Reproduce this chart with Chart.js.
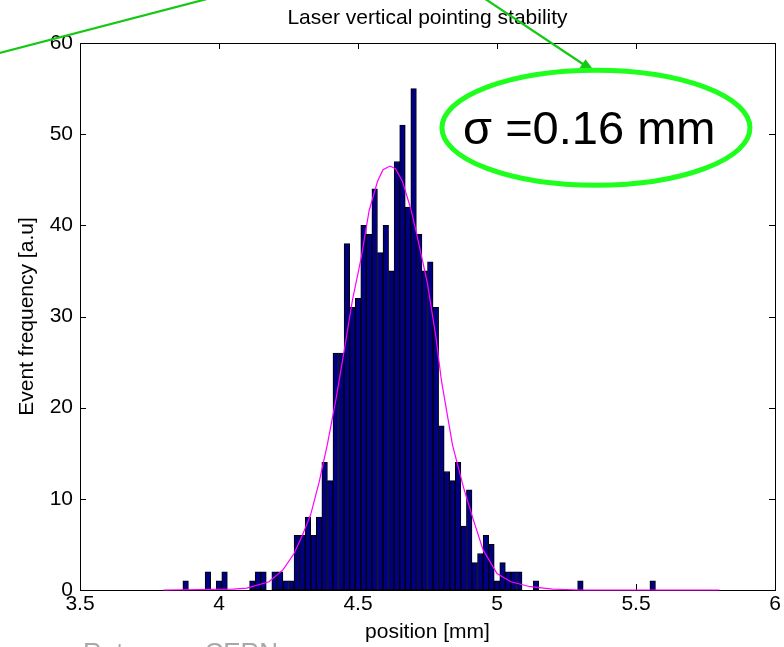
<!DOCTYPE html>
<html>
<head>
<meta charset="utf-8">
<title>Laser vertical pointing stability</title>
<script src="https://cdn.jsdelivr.net/npm/chart.js"></script>
<style>
    body { margin: 0; background: #fff; }
    #wrap { position: relative; width: 784px; height: 647px; }
</style>
</head>
<body>
<div id="wrap"><canvas id="hist" width="784" height="647"></canvas></div>
<script>
// histogram bins: centre position [mm] and number of events (empty bins left out)
const binPos = [3.88, 3.96, 4.00, 4.02, 4.12, 4.14, 4.16, 4.20, 4.22, 4.24, 4.26,
    4.28, 4.30, 4.32, 4.34, 4.36, 4.38, 4.40, 4.42, 4.44, 4.46, 4.48, 4.50,
    4.52, 4.54, 4.56, 4.58, 4.60, 4.62, 4.64, 4.66, 4.68, 4.70, 4.72, 4.74,
    4.76, 4.78, 4.80, 4.82, 4.84, 4.86, 4.88, 4.90, 4.92, 4.94, 4.96, 4.98,
    5.00, 5.02, 5.04, 5.06, 5.08, 5.14, 5.30, 5.56];
const binCount = [1, 2, 1, 2, 1, 2, 2, 2, 2, 1, 1,
    6, 6, 8, 6, 8, 14, 12, 26, 26, 38, 31, 32,
    40, 39, 44, 37, 40, 35, 47, 51, 42, 55, 39, 35,
    36, 31, 18, 13, 12, 14, 7, 11, 3, 4, 6, 5,
    1, 3, 2, 2, 2, 1, 1, 1];

// gaussian fit curve, sampled along the plotted line
const fitX = [3.80, 4.05, 4.10, 4.18, 4.23, 4.27, 4.30, 4.33, 4.36, 4.39, 4.42, 4.45,
    4.48, 4.51, 4.54, 4.57, 4.59, 4.615, 4.635, 4.66, 4.69, 4.71, 4.75, 4.78,
    4.80, 4.84, 4.88, 4.915, 4.95, 5.00, 5.05, 5.12, 5.20, 5.30, 5.80];
const fitY = [0, 0.1, 0.2, 0.9, 2.2, 4.0, 6.0, 8.3, 11.8, 16.0, 20.8, 26.2,
    31.8, 36.2, 41.6, 44.8, 46.1, 46.5, 46.2, 44.8, 41.8, 39.2, 33.6, 27.8,
    23.0, 15.9, 11.2, 7.7, 4.4, 1.8, 0.9, 0.36, 0.1, 0, 0];

const xTicks = [3.5, 4, 4.5, 5, 5.5, 6];
const yTicks = [0, 10, 20, 30, 40, 50, 60];
const titleText = 'Laser vertical pointing stability';
const sigmaText = 'σ =0.16 mm';

const FONT = "'Liberation Sans', Arial, Helvetica, sans-serif";

// matlab style box with inward ticks on all four sides, title centred on the axes
const frame = {
    id: 'frame',
    beforeDatasetsDraw(chart) {
        const { ctx, chartArea: a, scales: { x, y } } = chart;
        ctx.save();
        ctx.strokeStyle = '#000';
        ctx.lineWidth = 1;
        ctx.beginPath();
        xTicks.forEach(v => {
            const px = Math.round(x.getPixelForValue(v)) + 0.5;
            ctx.moveTo(px, a.bottom); ctx.lineTo(px, a.bottom - 6);
            ctx.moveTo(px, a.top); ctx.lineTo(px, a.top + 6);
        });
        yTicks.forEach(v => {
            const py = Math.round(y.getPixelForValue(v)) + 0.5;
            ctx.moveTo(a.left, py); ctx.lineTo(a.left + 6, py);
            ctx.moveTo(a.right, py); ctx.lineTo(a.right - 6, py);
        });
        ctx.stroke();
        ctx.strokeRect(a.left + 0.5, a.top + 0.5, a.right - a.left, a.bottom - a.top);

        ctx.fillStyle = '#000';
        ctx.font = '21px ' + FONT;
        ctx.textAlign = 'center';
        ctx.textBaseline = 'middle';
        ctx.fillText(titleText, (a.left + a.right) / 2, a.top - 25);
        ctx.restore();
    }
};

// green arrows, ellipse and sigma note drawn over the plot
const notes = {
    id: 'notes',
    afterDraw(chart) {
        const { ctx, scales: { x, y } } = chart;
        const px = v => x.getPixelForValue(v);
        const py = v => y.getPixelForValue(v);
        ctx.save();

        ctx.strokeStyle = '#14c814';
        ctx.fillStyle = '#14c814';
        ctx.lineWidth = 2.2;
        ctx.beginPath();
        ctx.moveTo(px(3.140), py(58.33));
        ctx.lineTo(px(4.040), py(65.49));
        ctx.stroke();

        const x0 = px(4.903), y0 = py(65.94);
        const x1 = px(5.3525), y1 = py(56.81);
        const ang = Math.atan2(y1 - y0, x1 - x0);
        ctx.beginPath();
        ctx.moveTo(x0, y0);
        ctx.lineTo(x1 - 10 * Math.cos(ang), y1 - 10 * Math.sin(ang));
        ctx.stroke();
        ctx.beginPath();
        ctx.moveTo(x1, y1);
        ctx.lineTo(x1 - 15 * Math.cos(ang) + 5.5 * Math.sin(ang), y1 - 15 * Math.sin(ang) - 5.5 * Math.cos(ang));
        ctx.lineTo(x1 - 15 * Math.cos(ang) - 5.5 * Math.sin(ang), y1 - 15 * Math.sin(ang) + 5.5 * Math.cos(ang));
        ctx.closePath();
        ctx.fill();

        const cx = px(5.356), cy = py(50.7);
        ctx.strokeStyle = '#1eff1e';
        ctx.lineWidth = 5;
        ctx.beginPath();
        ctx.ellipse(cx, cy, px(5.356 + 0.554) - cx, cy - py(50.7 + 6.31), 0, 0, Math.PI * 2);
        ctx.stroke();

        ctx.fillStyle = '#000';
        ctx.font = '47px ' + FONT;
        ctx.textAlign = 'left';
        ctx.textBaseline = 'alphabetic';
        ctx.fillText(sigmaText, px(4.878), py(48.9));

        // slide footer, cut by the bottom edge
        ctx.fillStyle = '#a8a8a8';
        ctx.font = '26px ' + FONT;
        ctx.textBaseline = 'top';
        ctx.fillText('Rutger  –  CERN', 83, 641);
        ctx.restore();
    }
};

new Chart(document.getElementById('hist'), {
    type: 'bar',
    data: {
        datasets: [
            {
                type: 'line',
                data: fitX.map((v, i) => ({ x: v, y: fitY[i] })),
                borderColor: '#ff00ff',
                borderWidth: 1.2,
                pointRadius: 0,
                tension: 0,
                clip: 4,
                order: 0
            },
            {
                type: 'bar',
                data: binPos.map((v, i) => ({ x: v, y: binCount[i] })),
                backgroundColor: '#000080',
                borderColor: '#000',
                borderWidth: 1,
                borderSkipped: false,
                barPercentage: 1,
                categoryPercentage: 1,
                order: 1
            }
        ]
    },
    options: {
        responsive: false,
        animation: false,
        devicePixelRatio: 1,
        events: [],
        layout: { padding: { left: 0, right: 9, top: 43, bottom: 0 } },
        plugins: {
            legend: { display: false },
            tooltip: { enabled: false },
            title: { display: false }
        },
        scales: {
            x: {
                type: 'linear',
                min: 3.5,
                max: 6,
                offset: false,
                grid: { display: false, drawTicks: false, offset: false },
                border: { display: false },
                afterBuildTicks: s => { s.ticks = xTicks.map(v => ({ value: v })); },
                afterFit: s => { s.height = 57; },
                ticks: {
                    color: '#000',
                    font: { family: FONT, size: 21 },
                    padding: 2,
                    maxRotation: 0,
                    autoSkip: false,
                    callback: v => String(v)
                },
                title: {
                    display: true,
                    text: 'position [mm]',
                    color: '#000',
                    font: { family: FONT, size: 21 },
                    padding: { top: 2, bottom: 2 }
                }
            },
            y: {
                min: 0,
                max: 60,
                grid: { display: false, drawTicks: false },
                border: { display: false },
                afterBuildTicks: s => { s.ticks = yTicks.map(v => ({ value: v })); },
                afterFit: s => { s.width = 80; },
                ticks: {
                    color: '#000',
                    font: { family: FONT, size: 21 },
                    padding: 7,
                    callback: v => String(v)
                },
                title: {
                    display: true,
                    text: 'Event frequency [a.u]',
                    color: '#000',
                    font: { family: FONT, size: 21 },
                    padding: { top: 15, bottom: 0 }
                }
            }
        }
    },
    plugins: [frame, notes]
});
</script>
</body>
</html>
